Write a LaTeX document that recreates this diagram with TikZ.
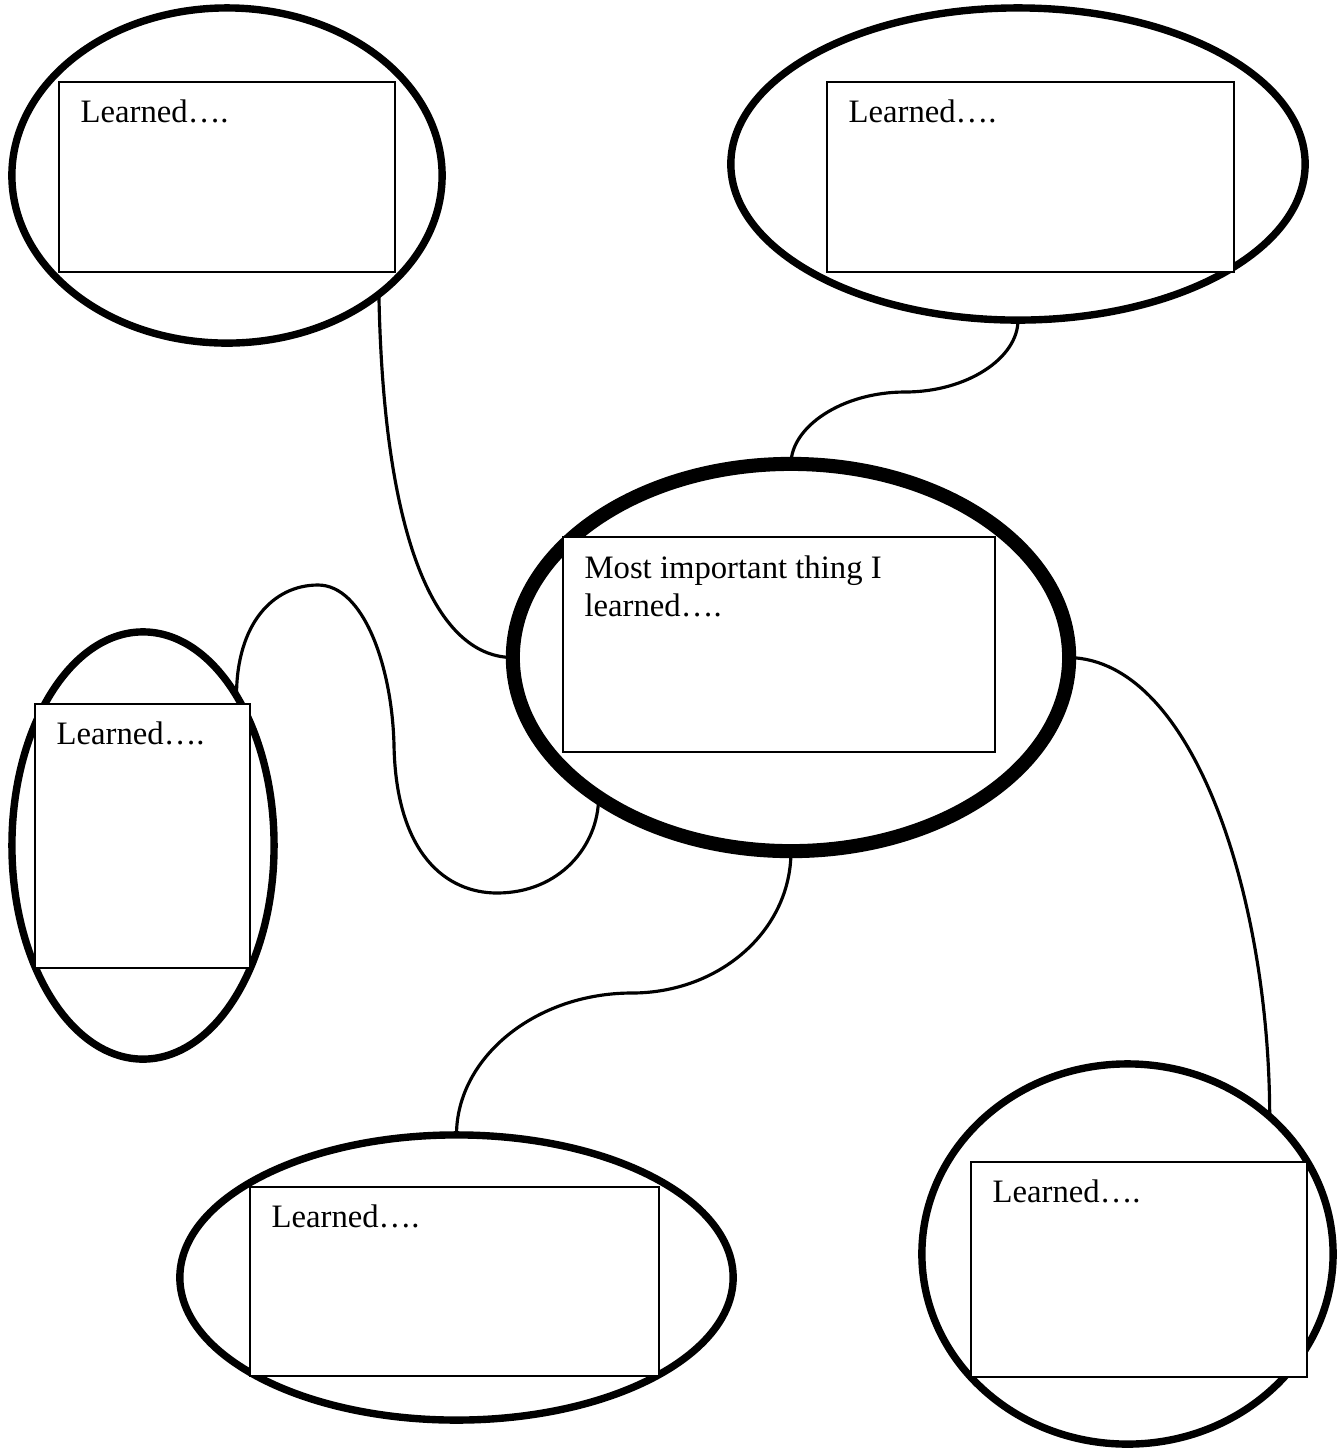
\documentclass[tikz,border=0pt]{standalone}
\usepackage{fontspec}
\setmainfont{Liberation Serif}
\usetikzlibrary{shapes.geometric}

\newcommand{\lrn}{Learned….}

\begin{document}
\begin{tikzpicture}[x=0.01cm, y=-0.01cm,
  oval/.style={draw, ellipse, line width=2.1pt, inner sep=0pt, outer sep=0pt},
  box/.style={draw, fill=white, rectangle, line width=0.6pt, inner sep=0pt, outer sep=0pt},
  lbl/.style={anchor=base west, inner sep=0pt, xshift=2.1mm, yshift=-4.1mm, align=left,
    font=\fontsize{9.3}{10.8}\selectfont},
  link/.style={line width=0.9pt}]
  \useasboundingbox (0,0) rectangle (1338,1450);

  % ovals
  \node[oval, minimum width=4.30cm, minimum height=3.35cm] (tl) at (227,175.5) {};
  \node[oval, minimum width=5.74cm, minimum height=3.12cm] (tr) at (1018,164) {};
  \node[oval, line width=4pt, minimum width=5.56cm, minimum height=3.87cm] (c) at (791,657.5) {};
  \node[oval, minimum width=2.62cm, minimum height=4.27cm] (l) at (143,845.5) {};
  \node[oval, minimum width=5.53cm, minimum height=2.85cm] (b) at (456.5,1277.5) {};
  \node[oval, minimum width=4.11cm, minimum height=3.80cm] (br) at (1127.5,1254) {};

  % bends
  \coordinate (k2) at (905,392);
  \coordinate (k3a) at (318,585);
  \coordinate (k3b) at (394,745);
  \coordinate (k3c) at (497,893);
  \coordinate (k4) at (632,993);

  % connectors
  \draw[link] (tl.-38) .. controls +(5,264) and +(-70,0) .. (c.180);
  \draw[link] (tr.-90) .. controls +(0,38) and +(62,0) .. (k2)
    .. controls +(-63,0) and +(0,-37) .. (c.90);
  \draw[link] (l.58) .. controls +(0,-72) and +(-45,0) .. (k3a)
    .. controls +(45,0) and +(-2,-80) .. (k3b)
    .. controls +(2,110) and +(-50,0) .. (k3c)
    .. controls +(63,0) and +(0,48) .. (c.-144);
  \draw[link] (c.-90) .. controls +(0,80) and +(87,0) .. (k4)
    .. controls +(-97,0) and +(0,-77) .. (b.90);
  \draw[link] (c.0) .. controls +(126,3) and +(0,-215) .. (br.44);

  % boxes
  \node[box, minimum width=3.36cm, minimum height=1.90cm] (tlbox) at (227,177) {};
  \node[box, minimum width=4.07cm, minimum height=1.90cm] (trbox) at (1030.5,177) {};
  \node[box, minimum width=4.32cm, minimum height=2.15cm] (cbox) at (779,644.5) {};
  \node[box, minimum width=2.15cm, minimum height=2.64cm] (lbox) at (142.5,836) {};
  \node[box, minimum width=4.09cm, minimum height=1.89cm] (bbox) at (454.5,1281.5) {};
  \node[box, minimum width=3.36cm, minimum height=2.15cm] (brbox) at (1139,1269.5) {};

  \node[lbl] (tltxt) at (tlbox.north west) {\lrn};
  \node[lbl] (trtxt) at (trbox.north west) {\lrn};
  \node[lbl, yshift=-3.8mm] (ctxt) at (cbox.north west) {Most important thing I\\learned….};
  \node[lbl] (ltxt) at (lbox.north west) {\lrn};
  \node[lbl] (btxt) at (bbox.north west) {\lrn};
  \node[lbl] (brtxt) at (brbox.north west) {\lrn};
\end{tikzpicture}
\end{document}
